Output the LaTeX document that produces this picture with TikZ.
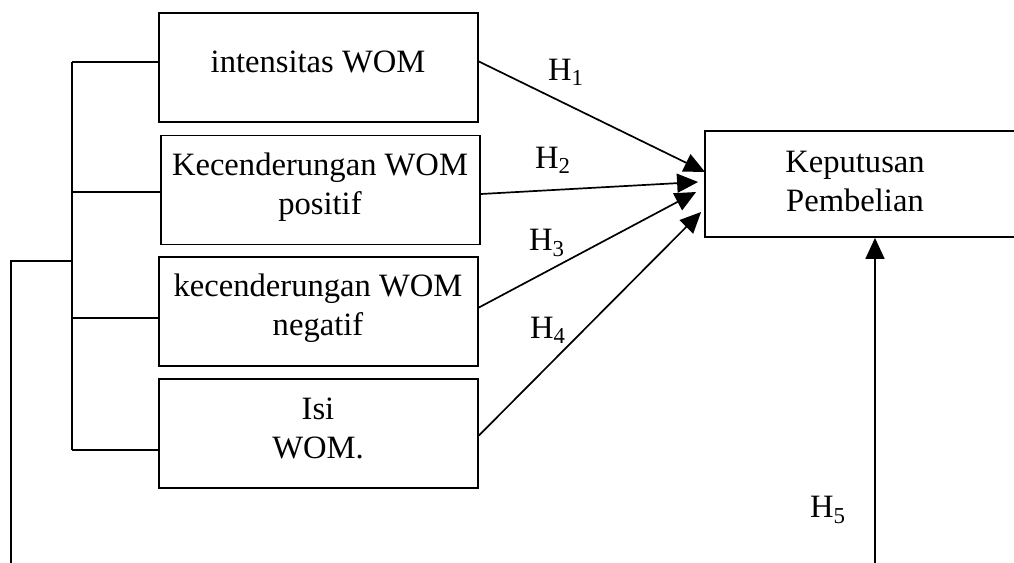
\documentclass[tikz,border=0pt]{standalone}
\usepackage{fontspec}
\setmainfont{Liberation Serif}
\usetikzlibrary{arrows.meta,calc}
\begin{document}
\begin{tikzpicture}[x=0.5pt,y=-0.5pt,
  line width=0.85pt,
  every node/.style={font=\fontsize{16.3}{19.5}\selectfont},
  varbox/.style={draw,line width=0.9pt,minimum width=159.5pt,minimum height=54.5pt,inner sep=0pt},
  txt/.style={align=center,inner sep=0pt},
  hyp/.style={inner sep=0pt},
  arr/.style={-{Triangle[length=10.5pt,width=9.5pt]}}]
\useasboundingbox (0,0) rectangle (1014,563);

% independent variables
\node[varbox] (b1) at (318.5,67.5) {};
\node[varbox] (b2) at (320.5,190) {};
\node[varbox] (b3) at (318.5,311.5) {};
\node[varbox] (b4) at (318.5,433.5) {};
\node[txt] (t1) at (318,62) {intensitas WOM};
\node[txt] (t2) at (320,187) {Kecenderungan WOM\\positif};
\node[txt] (t3) at (318,308) {kecenderungan WOM\\negatif};
\node[txt] (t4) at (318,428) {Isi\\WOM.};

% dependent variable
\node[draw,line width=0.9pt,minimum width=160pt,minimum height=53pt,inner sep=0pt] (kp) at (865,184) {};
\node[txt] (tk) at (855,181) {Keputusan\\Pembelian};

% grouping bracket on the left
\coordinate (j1) at (72,62);
\coordinate (j2) at (72,192);
\coordinate (j3) at (72,318);
\coordinate (j4) at (72,450);
\coordinate (jm) at (72,261);
\coordinate (lt) at (11,261);
\coordinate (lb) at (11,570);
\draw (j1) -- (j4);
\draw (j1) -- (j1 -| b1.west);
\draw (j2) -- (j2 -| b2.west);
\draw (j3) -- (j3 -| b3.west);
\draw (j4) -- (j4 -| b4.west);
\draw (lb) -- (lt) -- (jm);

% hypothesis arrows
\coordinate (s1) at ($(b1.east)+(0,-6)$);
\coordinate (s2) at ($(b2.east)+(0,4)$);
\coordinate (s3) at ($(b3.east)+(0,-4)$);
\coordinate (s4) at ($(b4.east)+(0,2)$);
\coordinate (e1) at ($(kp.west)+(1,-12)$);
\coordinate (e2) at ($(kp.west)+(-6,-2)$);
\coordinate (e3) at ($(kp.west)+(-8,8)$);
\coordinate (e4) at ($(kp.west)+(-3,28)$);
\draw[arr] (s1) -- (e1);
\draw[arr] (s2) -- (e2);
\draw[arr] (s3) -- (e3);
\draw[arr] (s4) -- (e4);
\coordinate (v0) at (875,570);
\draw[arr] (v0) -- (v0 |- kp.south);

% hypothesis labels
\node[hyp] (h1) at (566,72) {H\textsubscript{1}};
\node[hyp] (h2) at (553,160) {H\textsubscript{2}};
\node[hyp] (h3) at (547,243) {H\textsubscript{3}};
\node[hyp] (h4) at (548,330) {H\textsubscript{4}};
\node[hyp] (h5) at (828,510) {H\textsubscript{5}};
\end{tikzpicture}
\end{document}
